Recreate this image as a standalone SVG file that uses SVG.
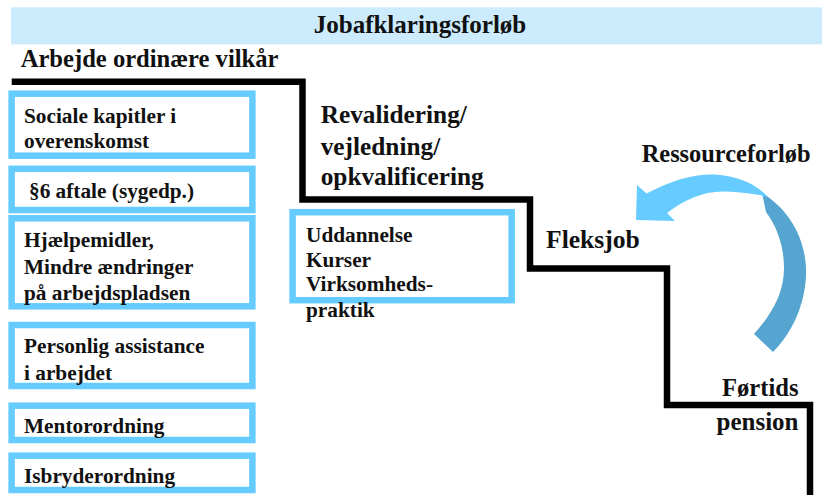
<svg xmlns="http://www.w3.org/2000/svg" width="833" height="495" viewBox="0 0 833 495">
<style>
text{font-family:"Liberation Serif","Times New Roman",serif;font-weight:bold;fill:#111}
.box{fill:#fff;stroke:#66CCFF;stroke-width:6.5}
.bt{font-size:21.3px}
.big{font-size:25.3px}
.stair{fill:none;stroke:#000;stroke-width:6.5;stroke-linejoin:miter}
</style>
<rect width="833" height="495" fill="#fff"/>
<g id="header">
<rect x="11" y="7.3" width="811" height="37" fill="#CCEBFC"/>
<text x="420" y="33.3" text-anchor="middle" style="font-size:25px">Jobafklaringsforløb</text>
</g>
<g id="connectors">
<polyline class="stair" points="11.7,81.7 302.5,81.7 302.5,199.5 530,199.5 530,268.5 667,268.5 667,405 810,405 810,495"/>
</g>
<g id="arbejde"><text class="big" x="20.7" y="66.7" style="font-size:24.6px">Arbejde ordinære vilkår</text></g>
<g id="box-sociale">
<rect class="box" x="11.6" y="93.7" width="240.8" height="62"/>
<text class="bt" x="24" y="122.7">Sociale kapitler i</text>
<text class="bt" x="24" y="148.3">overenskomst</text>
</g>
<g id="box-paragraf6">
<rect class="box" x="11.6" y="168.8" width="240.8" height="41.2"/>
<text class="bt" x="29" y="198.3">§6 aftale (sygedp.)</text>
</g>
<g id="box-hjaelpemidler">
<rect class="box" x="11.6" y="218.3" width="240.8" height="88"/>
<text class="bt" x="24" y="246.7">Hjælpemidler,</text>
<text class="bt" x="24" y="273.5">Mindre ændringer</text>
<text class="bt" x="24" y="300">på arbejdspladsen</text>
</g>
<g id="box-personlig">
<rect class="box" x="11.6" y="325" width="240.8" height="61"/>
<text class="bt" x="24" y="353.3">Personlig assistance</text>
<text class="bt" x="24" y="380">i arbejdet</text>
</g>
<g id="box-mentor">
<rect class="box" x="11.6" y="405.7" width="240.8" height="34.3"/>
<text class="bt" x="24" y="433.3">Mentorordning</text>
</g>
<g id="box-isbryder">
<rect class="box" x="11.6" y="455.7" width="240.8" height="34.3"/>
<text class="bt" x="24" y="483.3">Isbryderordning</text>
</g>
<g id="revalidering">
<text class="big" x="320.7" y="123.3">Revalidering/</text>
<text class="big" x="320.7" y="154.5">vejledning/</text>
<text class="big" x="320.7" y="184.5">opkvalificering</text>
</g>
<g id="box-uddannelse">
<rect class="box" x="292.6" y="212.2" width="219.1" height="88"/>
<text class="bt" x="306" y="241.7">Uddannelse</text>
<text class="bt" x="306" y="266.5">Kurser</text>
<text class="bt" x="306" y="290.5">Virksomheds-</text>
<text class="bt" x="306" y="317">praktik</text>
</g>
<g id="fleksjob"><text class="big" x="546" y="248.3" style="font-size:25.6px">Fleksjob</text></g>
<g id="ressourceforloeb">
<path d="M762,193 C790,210 807,240 806,275 C805,305 792,333 773,352 L754,334 C770,316 784,295 784,268 C784,248 778,228 766,212 Z" fill="#55A5D0"/>
<path d="M637,185 L646.5,193.5 C672,180 695,173.5 715,174.5 C738,176 756,184 768,197 C760,195 745,192 725,191.5 C703,191 684,200 667,213 L675,221 L636,220 Z" fill="#66CCFF"/>
<text class="big" x="641.7" y="161.7" style="font-size:24.4px">Ressourceforløb</text>
</g>
<g id="foertidspension">
<text class="big" x="798.5" y="396" text-anchor="end" style="font-size:24.6px">Førtids</text>
<text class="big" x="798.5" y="430" text-anchor="end" style="font-size:25px">pension</text>
</g>
</svg>
